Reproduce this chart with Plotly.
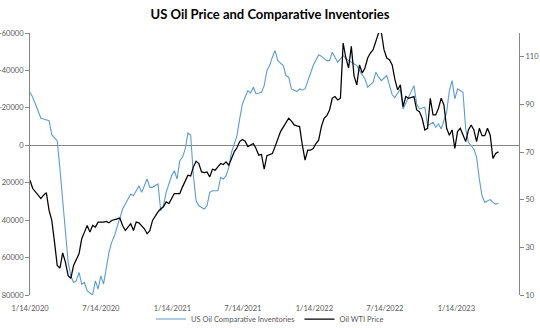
import plotly.graph_objects as go

# ---- Data ----
inv_dates = [
    "2020-01-14", "2020-01-21", "2020-01-28", "2020-02-11", "2020-02-18", "2020-03-03", "2020-03-10",
    "2020-03-24", "2020-03-31", "2020-04-07", "2020-04-14", "2020-04-21", "2020-04-28", "2020-05-05",
    "2020-05-12", "2020-05-19", "2020-05-26", "2020-06-02", "2020-06-09", "2020-06-16", "2020-06-23",
    "2020-06-30", "2020-07-07", "2020-07-14", "2020-07-21", "2020-08-04", "2020-08-11", "2020-08-18",
    "2020-08-25", "2020-09-08", "2020-09-15", "2020-09-22", "2020-09-29", "2020-10-06", "2020-10-20",
    "2020-10-27", "2020-11-10", "2020-11-17", "2020-11-24", "2020-12-08", "2020-12-15", "2020-12-22",
    "2020-12-29", "2021-01-12", "2021-01-19", "2021-01-26", "2021-02-02", "2021-02-09", "2021-02-16",
    "2021-02-23", "2021-03-02", "2021-03-09", "2021-03-16", "2021-03-23", "2021-04-06", "2021-04-13",
    "2021-04-20", "2021-04-27", "2021-05-11", "2021-05-18", "2021-05-25", "2021-06-01", "2021-06-08",
    "2021-06-15", "2021-06-29", "2021-07-06", "2021-07-13", "2021-07-27", "2021-08-03", "2021-08-10",
    "2021-08-17", "2021-08-31", "2021-09-07", "2021-09-14", "2021-09-21", "2021-09-28", "2021-10-05",
    "2021-10-12", "2021-10-26", "2021-11-02", "2021-11-09", "2021-11-16", "2021-11-30", "2021-12-07",
    "2021-12-14", "2021-12-21", "2022-01-04", "2022-01-11", "2022-01-25", "2022-02-01", "2022-02-15",
    "2022-02-22", "2022-03-01", "2022-03-15", "2022-03-22", "2022-03-29", "2022-04-12", "2022-04-19",
    "2022-05-03", "2022-05-10", "2022-05-24", "2022-05-31", "2022-06-14", "2022-06-21", "2022-06-28",
    "2022-07-05", "2022-07-19", "2022-08-02", "2022-08-09", "2022-08-23", "2022-08-30", "2022-09-13",
    "2022-09-27", "2022-10-04", "2022-10-11", "2022-10-25", "2022-11-01", "2022-11-15", "2022-11-22",
    "2022-11-29", "2022-12-06", "2022-12-20", "2022-12-27", "2023-01-03", "2023-01-10", "2023-01-17",
    "2023-01-31", "2023-02-07", "2023-02-14", "2023-02-28", "2023-03-07", "2023-03-14", "2023-03-21",
    "2023-03-28", "2023-04-04", "2023-04-11", "2023-04-18", "2023-04-25", "2023-05-02",
]
inv_values = [
    -28400, -25700, -22100, -14450, -14070, -13160, -5510,
    -2460, 12680, 30330, 48360, 62430, 69760, 73300,
    72440, 67950, 74200, 73300, 77790, 78700, 80000,
    72440, 76880, 69760, 74200, 57200, 51900, 48360,
    43870, 34080, 31400, 28730, 26050, 26960, 21610,
    25150, 18030, 22470, 22470, 20700, 34990, 32300,
    25150, 16260, 13590, 18030, 8240, 6420, 1980,
    -6580, -5510, 16260, 29640, 32310, 34080, 32310,
    25150, 24290, 24290, 17120, 18030, 16260, 11770,
    3745, -5140, -14070, -22100, -29210, -27980, -31030,
    -27450, -28360, -31890, -39910, -42590, -47080, -50610,
    -45260, -42590, -37240, -36380, -30120, -28680, -30120,
    -29590, -30120, -38150, -42590, -48310, -47620, -45260,
    -45260, -49760, -44400, -46170, -47940, -45260, -44400,
    -42590, -39910, -35470, -31030, -33700, -39060, -36380,
    -34560, -37240, -27000, -25500, -30120, -19420, -25680,
    -31890, -22100, -19420, -20330, -10490, -12300, -9630,
    -11400, -8720, -17660, -29210, -34560, -24770, -30120,
    -28360, -8720, -1600, 1980, 6420, 18030, 26960,
    30500, 29640, 29000, 30500, 31400, 31000,
]

wti_dates = [
    "2020-01-14", "2020-01-21", "2020-02-04", "2020-02-11", "2020-02-18", "2020-02-25", "2020-03-03",
    "2020-03-10", "2020-03-17", "2020-03-24", "2020-03-31", "2020-04-07", "2020-04-14", "2020-04-21",
    "2020-04-28", "2020-05-05", "2020-05-19", "2020-05-26", "2020-06-02", "2020-06-09", "2020-06-16",
    "2020-06-23", "2020-06-30", "2020-07-07", "2020-07-21", "2020-07-28", "2020-08-04", "2020-08-11",
    "2020-08-25", "2020-09-01", "2020-09-08", "2020-09-15", "2020-09-29", "2020-10-06", "2020-10-13",
    "2020-10-20", "2020-11-03", "2020-11-10", "2020-11-17", "2020-11-24", "2020-12-08", "2020-12-15",
    "2020-12-22", "2020-12-29", "2021-01-05", "2021-01-12", "2021-01-19", "2021-01-26", "2021-02-02",
    "2021-02-09", "2021-02-16", "2021-02-23", "2021-03-02", "2021-03-09", "2021-03-16", "2021-03-23",
    "2021-03-30", "2021-04-06", "2021-04-13", "2021-04-20", "2021-04-27", "2021-05-04", "2021-05-11",
    "2021-05-18", "2021-05-25", "2021-06-01", "2021-06-08", "2021-06-15", "2021-06-22", "2021-06-29",
    "2021-07-06", "2021-07-13", "2021-07-20", "2021-07-27", "2021-08-03", "2021-08-10", "2021-08-17",
    "2021-08-24", "2021-08-31", "2021-09-07", "2021-09-14", "2021-09-21", "2021-09-28", "2021-10-05",
    "2021-10-12", "2021-10-19", "2021-10-26", "2021-11-02", "2021-11-09", "2021-11-16", "2021-11-23",
    "2021-11-30", "2021-12-07", "2021-12-14", "2021-12-21", "2021-12-28", "2022-01-04", "2022-01-11",
    "2022-01-18", "2022-01-25", "2022-02-01", "2022-02-08", "2022-02-15", "2022-02-22", "2022-03-01",
    "2022-03-08", "2022-03-15", "2022-03-22", "2022-03-29", "2022-04-05", "2022-04-12", "2022-04-19",
    "2022-04-26", "2022-05-03", "2022-05-10", "2022-05-17", "2022-05-24", "2022-05-31", "2022-06-07",
    "2022-06-14", "2022-06-21", "2022-06-28", "2022-07-05", "2022-07-12", "2022-07-19", "2022-07-26",
    "2022-08-02", "2022-08-09", "2022-08-16", "2022-08-23", "2022-08-30", "2022-09-06", "2022-09-13",
    "2022-09-27", "2022-10-04", "2022-10-11", "2022-10-18", "2022-10-25", "2022-11-01", "2022-11-08",
    "2022-11-15", "2022-11-22", "2022-11-29", "2022-12-06", "2022-12-13", "2022-12-20", "2022-12-27",
    "2023-01-03", "2023-01-10", "2023-01-17", "2023-01-24", "2023-01-31", "2023-02-07", "2023-02-14",
    "2023-02-21", "2023-02-28", "2023-03-07", "2023-03-14", "2023-03-21", "2023-03-28", "2023-04-04",
    "2023-04-11", "2023-04-18", "2023-04-25", "2023-05-02",
]
wti_values = [
    58.2, 54.7, 51.9, 50.5, 51.9, 53.0, 45.5,
    41.3, 32.2, 22.4, 21.3, 27.7, 23.8, 18.1,
    17.0, 22.4, 27.3, 33.6, 36.4, 39.2, 36.4,
    39.2, 38.5, 40.6, 40.6, 40.9, 40.3, 41.3,
    42.0, 42.3, 39.2, 37.1, 39.9, 37.1, 40.6,
    40.3, 37.8, 35.7, 37.0, 41.3, 44.9, 46.2,
    47.0, 49.1, 48.4, 50.5, 52.6, 52.6, 52.6,
    55.4, 58.2, 60.3, 60.0, 63.8, 66.2, 65.2,
    61.7, 61.4, 61.7, 59.6, 62.8, 62.4, 63.8,
    65.2, 64.8, 65.9, 64.5, 67.3, 70.1, 71.8,
    74.4, 75.3, 74.6, 72.3, 72.8, 73.6, 71.5,
    68.7, 69.0, 62.8, 68.5, 69.0, 69.4, 72.3,
    75.8, 78.6, 80.5, 82.1, 84.2, 83.0, 81.4,
    81.0, 80.7, 73.0, 66.6, 70.8, 70.8, 71.5,
    73.6, 75.0, 80.7, 84.2, 85.3, 87.7, 92.6,
    93.3, 91.9, 92.6, 115.8, 109.5, 105.3, 114.4,
    102.0, 98.2, 106.6, 103.2, 105.3, 109.5, 111.6,
    113.0, 116.5, 120.0, 120.4, 113.0, 109.5, 108.8,
    106.6, 100.5, 96.1, 98.2, 89.1, 93.3, 92.6,
    93.3, 87.7, 87.0, 84.2, 79.3, 80.0, 92.6,
    85.6, 85.6, 88.4, 92.6, 89.8, 80.0, 77.1,
    79.3, 71.5, 78.6, 80.0, 77.1, 74.4, 79.3,
    81.4, 79.3, 74.4, 80.0, 76.9, 76.9, 80.0,
    77.1, 67.3, 69.4, 70.1,
]

x_tick_dates = ["2020-01-14", "2020-07-14", "2021-01-14", "2021-07-14",
                "2022-01-14", "2022-07-14", "2023-01-14"]
x_tick_labels = ["1/14/2020", "7/14/2020", "1/14/2021", "7/14/2021",
                 "1/14/2022", "7/14/2022", "1/14/2023"]
left_ticks = [-60000, -40000, -20000, 0, 20000, 40000, 60000, 80000]
left_labels = ["-60000", "-40000", "-20000", "0", "20000", "40000", "60000", "80000"]
right_ticks = [10, 30, 50, 70, 90, 110]

FONT = "Lato"
AXIS_GRAY = "#868686"
LABEL_GRAY = "#595959"
TICK_SIZE = 7.5

fig = go.Figure()
fig.add_trace(go.Scatter(
    x=inv_dates, y=inv_values, name="US Oil Comparative Inventories",
    mode="lines", line=dict(color="#5B9BD5", width=1.1), yaxis="y",
))
fig.add_trace(go.Scatter(
    x=wti_dates, y=wti_values, name="Oil WTI Price",
    mode="lines", line=dict(color="#000000", width=1.25), yaxis="y2",
))

fig.update_layout(
    width=540, height=328,
    margin=dict(l=30, r=21, t=33, b=33),
    paper_bgcolor="white", plot_bgcolor="white",
    font=dict(family=FONT, size=TICK_SIZE, color=LABEL_GRAY),
    title=dict(text="<b>US Oil Price and Comparative Inventories</b>",
               x=0.5, xanchor="center", y=1 - 14 / 328, yanchor="middle",
               font=dict(family=FONT, size=13, color="#000000")),
    xaxis=dict(
        type="date", range=["2020-01-14", "2023-06-24"],
        tickvals=x_tick_dates, ticktext=x_tick_labels,
        showgrid=False, showline=False, zeroline=False,
        ticks="outside", ticklen=6, tickcolor="rgba(0,0,0,0)",
        tickfont=dict(family=FONT, size=TICK_SIZE, color=LABEL_GRAY),
        automargin=False,
    ),
    yaxis=dict(
        range=[80000, -60000], tickvals=left_ticks, ticktext=left_labels,
        showgrid=False, showline=True, linecolor=AXIS_GRAY, linewidth=1,
        ticks="outside", ticklen=4, tickcolor=AXIS_GRAY,
        zeroline=True, zerolinecolor=AXIS_GRAY, zerolinewidth=1,
        tickfont=dict(family=FONT, size=TICK_SIZE, color=LABEL_GRAY),
        automargin=False,
    ),
    yaxis2=dict(
        range=[10, 120], tickvals=right_ticks, overlaying="y", side="right",
        showgrid=False, showline=True, linecolor=AXIS_GRAY, linewidth=1,
        ticks="outside", ticklen=4, tickcolor=AXIS_GRAY, zeroline=False,
        tickfont=dict(family=FONT, size=TICK_SIZE, color=LABEL_GRAY),
        automargin=False,
    ),
    legend=dict(orientation="h", x=0.5, xanchor="center", xref="container",
                y=9 / 328, yanchor="middle", yref="container",
                font=dict(family=FONT, size=TICK_SIZE, color=LABEL_GRAY),
                bgcolor="rgba(0,0,0,0)", itemwidth=30, tracegroupgap=0),
    showlegend=True,
)

fig.write_html("out.html")
